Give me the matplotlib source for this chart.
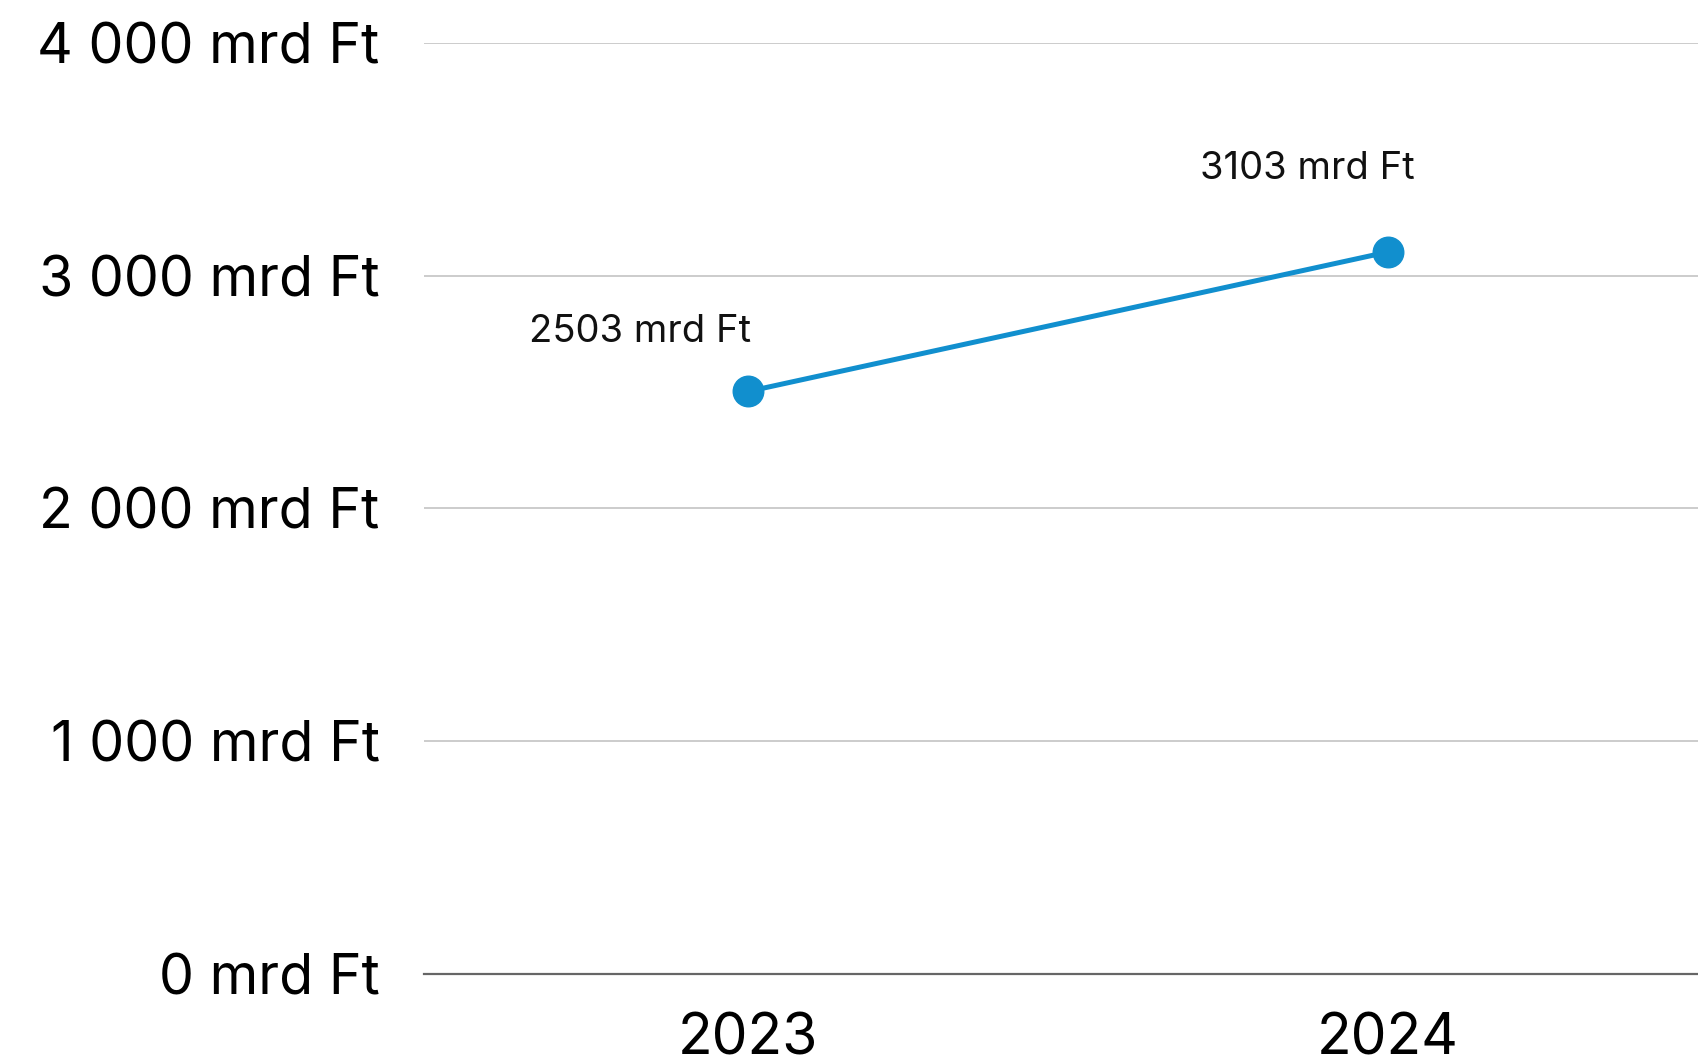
import matplotlib
matplotlib.use("Agg")
import matplotlib.pyplot as plt
from matplotlib.ticker import FuncFormatter

years = ["2023", "2024"]
values = [2503, 3103]
y_ticks = [0, 1000, 2000, 3000, 4000]

blue = "#118fce"
plt.rcParams["font.family"] = ["Inter", "DejaVu Sans"]

fig = plt.figure(figsize=(16.98, 10.59), dpi=100)
ax = fig.add_axes([0.2497, 0.0806, 0.7503, 0.8785])

x = list(range(len(years)))
ax.plot(x, values, color=blue, lw=3.6, marker="o", markersize=22, zorder=3, clip_on=False)

# value labels, placed up-left of each point
offsets = [(-78, 43), (-58, 60)]
for xi, v, off in zip(x, values, offsets):
    ax.annotate(f"{v} mrd Ft", (xi, v), xytext=off, textcoords="offset points",
                ha="center", va="center", fontsize=27.5, color="#111111")

ax.set_xlim(-0.506, 1.484)
ax.set_ylim(0, 4000)
ax.set_xticks(x)
ax.set_xticklabels(years)
ax.set_yticks(y_ticks)
ax.yaxis.set_major_formatter(FuncFormatter(lambda v, p: f"{int(v):,}".replace(",", " ") + " mrd Ft"))

ax.grid(axis="y", color="#c8c8c8", lw=1.3)
ax.set_axisbelow(True)
for s in ["top", "right", "left"]:
    ax.spines[s].set_visible(False)
ax.spines["bottom"].set_color("#666666")
ax.spines["bottom"].set_linewidth(1.6)

ax.tick_params(axis="both", length=0, labelsize=40, colors="#000000")
ax.tick_params(axis="y", pad=32)
ax.tick_params(axis="x", labelsize=41, pad=28)

fig.savefig("out.png", dpi=100)
